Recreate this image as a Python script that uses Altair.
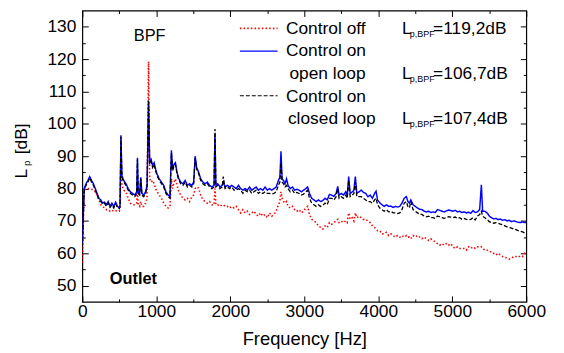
import altair as alt
import pandas as pd

# ---------------- data ----------------
freq = [
    0, 25, 50, 75, 100, 125, 150, 175, 200, 225, 250, 275, 300, 325, 350, 375, 400, 425, 450, 475, 500,
    510, 522, 535, 560, 590, 620, 650, 680, 710, 735, 745, 755, 775, 790, 805, 830, 855, 875,
    895, 910, 930, 950, 970, 990, 1010, 1040, 1070, 1100, 1130, 1160, 1185, 1204, 1220, 1240, 1258, 1280, 1302,
    1330, 1360, 1390, 1420, 1450, 1480, 1505, 1525, 1545, 1570, 1600, 1630, 1660, 1690, 1720, 1750, 1780, 1793, 1805,
    1830, 1860, 1890, 1905, 1930, 1960, 1990, 2020, 2050, 2080, 2110, 2140, 2170, 2200, 2230, 2260, 2290, 2320,
    2350, 2380, 2410, 2440, 2470, 2500, 2530, 2560, 2590, 2620, 2650, 2670, 2685, 2700, 2720, 2740, 2760, 2780,
    2810, 2840, 2870, 2900, 2930, 2960, 2990, 3020, 3045, 3070, 3100, 3130, 3160, 3190, 3220, 3250, 3280, 3310,
    3340, 3370, 3400, 3430, 3452, 3470, 3500, 3530, 3560, 3580, 3600, 3620, 3650, 3670, 3690, 3710, 3740,
    3770, 3800, 3830, 3860, 3890, 3920, 3950, 3970, 3990, 4020, 4050, 4080, 4110, 4140, 4170, 4200, 4230, 4260, 4290,
    4320, 4350, 4380, 4400, 4420, 4440, 4470, 4500, 4530, 4560, 4590, 4620, 4650, 4680, 4710, 4740, 4770, 4800,
    4830, 4860, 4890, 4920, 4950, 4980, 5010, 5040, 5070, 5100, 5130, 5160, 5190, 5220, 5250, 5280, 5310, 5340, 5370,
    5393, 5410, 5440, 5470, 5500, 5530, 5560, 5590, 5620, 5650, 5680, 5710, 5740, 5770, 5800, 5830, 5860, 5890, 5920, 5950, 5980, 6000,
]

control_off = [
    57, 79.5, 80, 80, 80, 79.8, 79.5, 79, 78, 76.5, 75, 74.5, 74, 73.5, 73.5, 73, 73.3, 73, 73.2, 73, 73,
    74, 92, 81, 79.5, 79, 77, 75.5, 75, 75, 75.5, 80, 75, 74.5, 76, 74.5, 74.5, 75.5, 77,
    119.2, 83, 82, 82.5, 81.5, 80, 79, 78, 77, 75.5, 74.5, 74, 74.5, 83, 80, 82, 83, 81, 79.2,
    78, 77, 76.5, 77, 76, 77.5, 78, 80, 80.5, 80.2, 78, 76.5, 76, 75.5, 76, 75, 75, 80, 75,
    75, 74.5, 75, 75, 74.5, 74.5, 74, 74.5, 74, 74.5, 73.5, 72.5, 73.5, 72.5, 73, 72, 72.5, 73,
    72, 71.5, 72.5, 71.5, 72, 71, 72.5, 71.5, 72, 73, 75, 76, 79, 77, 76, 75.5, 76, 74.5,
    74, 74.5, 73.5, 73, 73.5, 72.5, 73, 74, 74.5, 72, 70.5, 70, 69.5, 68.5, 68, 67.5, 68.5, 68,
    69.5, 69, 69.5, 70, 70.5, 69.5, 70, 69.5, 70, 69.5, 72.5, 70.5, 71, 70, 72.5, 71, 71.5,
    71, 70.5, 70.5, 70, 69.5, 68.5, 68, 67.5, 67, 67, 66, 66, 66.5, 65.5, 66, 65.5, 65, 65.5, 65,
    65.5, 65, 65.5, 65, 65, 64.5, 65.5, 65, 65.5, 65, 64.5, 65, 64.5, 64, 64.5, 64, 63.5, 63,
    62.5, 63, 62.5, 63, 62.5, 63, 62, 61.5, 62, 61.5, 61.5, 61.5, 61, 62, 61.5, 62, 61.5, 62, 62,
    62, 61.5, 61, 61, 60.5, 60.5, 60, 59.5, 60, 59.5, 59, 58.8, 58.5, 58.2, 58.5, 59, 59, 58.8, 59.2, 59, 60, 60.5,
]

open_loop = [
    63, 80, 81.5, 82.5, 83.7, 82.5, 81.5, 80, 78.5, 77, 76.5, 75.5, 75.8, 75, 76, 74.5, 75.5, 74.5, 75.8, 74.5, 74,
    75, 96.5, 84, 82.5, 81.5, 80, 79, 78.5, 78, 79, 89.5, 79, 78.5, 83.5, 78.5, 78, 79, 81,
    106.7, 88, 89, 87, 88, 86, 84.5, 83, 82, 81, 79, 78, 77.5, 91.8, 86, 87.5, 88, 85, 83.2,
    82, 81.5, 82.5, 81, 81.5, 81, 82, 90, 86.5, 85.2, 83, 82, 81.5, 82, 81, 80.5, 81, 97, 81,
    81.5, 80.5, 81, 82, 80.5, 81, 80.5, 81, 80.5, 80, 81, 80, 79.5, 80, 79.5, 80.5, 79.5, 80,
    80.5, 79.5, 80, 79.5, 80.5, 79.5, 80, 79.5, 80, 80.5, 82.5, 83.5, 91.5, 83, 82.5, 81.5, 83, 81,
    80, 80.5, 79.5, 79.8, 79.5, 79, 79.5, 80, 80.5, 78.5, 77, 76.5, 76, 76.5, 76, 76.3, 77, 76.5,
    78.2, 78, 77.6, 78.5, 80.7, 78, 78.5, 78, 79, 78, 83.7, 78.5, 79, 79.5, 83.7, 78.5, 79,
    79.5, 78.8, 78.5, 77.5, 78, 77, 78.5, 79.2, 76.5, 75.6, 75, 74.5, 75, 74.5, 74.6, 74.2, 74.5, 74.3, 74.5,
    75.5, 77, 77.5, 76, 75.5, 76.5, 75, 74.5, 74, 73.6, 73.5, 73, 72.8, 73, 72.6, 72.8, 72.6, 73.5,
    73.3, 73, 72.8, 73.1, 73.4, 73.2, 73, 73.3, 72.8, 73, 72.6, 72.8, 72.5, 72.7, 72.4, 73.2, 72.6, 72.8, 73.5,
    81.2, 73, 73, 72.5, 71.5, 71, 70.6, 70.8, 70.4, 70.6, 70.2, 70.4, 70, 70.2, 69.8, 70, 69.8, 69.6, 69.5, 69.7, 69.5, 69.6,
]

closed_loop = [
    62, 79.5, 81, 82, 83.3, 82, 81, 79.5, 78, 76.5, 76, 75.2, 75.5, 74.5, 75.5, 74.2, 75, 74, 75.3, 74.2, 73.8,
    74.5, 96, 83.5, 82, 81, 79.5, 78.5, 78, 77.5, 78.5, 89, 78.5, 78, 83, 78, 77.5, 78.5, 80.5,
    107.4, 87.5, 88.5, 86.5, 87.5, 85.5, 84, 82.5, 81.5, 80.5, 78.5, 77.5, 77, 91, 85.5, 87, 87.5, 84.5, 82.8,
    81.5, 81, 82, 80.5, 81, 80.5, 81.5, 89.5, 86, 84.8, 82.5, 81.5, 81, 81.5, 80.5, 80, 80.5, 98.4, 80.5,
    81, 80, 80.5, 83.7, 80, 80.5, 80, 80.5, 79.5, 79.5, 80, 79.5, 78.5, 79.5, 79, 79.5, 78.5, 79,
    79.5, 78.5, 79, 78.5, 79, 78.5, 78.5, 78.3, 78.5, 79, 81, 82, 88, 82, 81.5, 80.5, 81, 80,
    79, 79.5, 78.5, 78.8, 78.5, 78, 78.3, 79, 79.5, 77, 75.5, 75, 74.5, 75, 74.5, 74.8, 75.5, 75,
    77, 77, 76.5, 77.5, 80, 77, 77.5, 77, 78, 77, 82.5, 77.5, 78, 78.5, 82, 77.5, 77.5,
    77.5, 77, 76.5, 76, 76, 75.5, 76.5, 77, 75, 74, 73.5, 73, 73.5, 72.8, 73, 72.5, 72.5, 72.3, 72.5,
    73.5, 75.5, 76, 74.5, 74, 76, 73.5, 73, 72.5, 72, 72, 71.5, 71.3, 71.5, 71, 71, 70.8, 71.5,
    71.3, 71, 70.8, 71, 71.3, 71.2, 71, 71.2, 70.8, 71, 70.5, 70.8, 70.5, 70.3, 70.5, 71, 70.3, 71.5, 72,
    73, 71.5, 71, 70.5, 69.8, 69.5, 69.3, 69.5, 69.3, 69, 68.8, 68.5, 68.2, 68, 67.8, 67.5, 67.3, 67, 66.8, 66.6, 66.3, 66.5,
]

series_names = ["1 off", "2 open", "3 closed"]
series_colors = ["#ff0000", "#0000ff", "#000000"]

x_major = [0, 1000, 2000, 3000, 4000, 5000, 6000]
x_minor = [500, 1500, 2500, 3500, 4500, 5500]
y_major = [50, 60, 70, 80, 90, 100, 110, 120, 130]
y_minor = [55, 65, 75, 85, 95, 105, 115, 125]

rows = []
for name, vals in zip(series_names, [control_off, open_loop, closed_loop]):
    for f, v in zip(freq, vals):
        rows.append({"f": f, "v": v, "s": name})
df = pd.DataFrame(rows)

# ---------------- layout ----------------
W, H = 448, 294
FONT = "Liberation Sans"
xs = alt.Scale(domain=[0, 6000], nice=False, zero=False)
ys = alt.Scale(domain=[45, 135], nice=False, zero=False)


def make_axis(orient, values, size, labels=False, title=None, label_pad=1):
    kw = dict(orient=orient, values=values, tickSize=size, offset=-size, domain=False,
              grid=False, labels=labels, ticks=True, tickColor="black", tickWidth=1)
    if labels:
        kw.update(labelFont=FONT, labelFontSize=17.5, labelColor="black", format="d",
                  labelPadding=label_pad, labelOverlap=False, labelFlush=False)
    if title:
        kw.update(title=title, titleFont=FONT, titleFontSize=18.5, titleFontWeight="normal",
                  titleColor="black", titlePadding=10)
    else:
        kw["title"] = None
    return alt.Axis(**kw)


lines = alt.Chart(df).mark_line(clip=True).encode(
    x=alt.X("f:Q", scale=xs, axis=make_axis("bottom", x_major, 6, True, "Frequency [Hz]", 1)),
    y=alt.Y("v:Q", scale=ys, axis=make_axis("left", y_major, 6, True, None, 6.5)),
    color=alt.Color("s:N", scale=alt.Scale(domain=series_names, range=series_colors), legend=None),
    strokeDash=alt.StrokeDash("s:N", scale=alt.Scale(domain=series_names,
                                                     range=[[1.5, 2.2], [1, 0], [4, 2]]), legend=None),
    strokeWidth=alt.StrokeWidth("s:N", scale=alt.Scale(domain=series_names, range=[1.6, 1.3, 1.2]),
                                legend=None),
    order=alt.Order("f:Q"),
)

anchor = pd.DataFrame({"f": [0], "v": [45]})


def axis_layer(xa, ya):
    return alt.Chart(anchor).mark_point(opacity=0).encode(
        x=alt.X("f:Q", scale=xs, axis=xa),
        y=alt.Y("v:Q", scale=ys, axis=ya),
    )


ax_minor_bl = axis_layer(make_axis("bottom", x_minor, 3), make_axis("left", y_minor, 3))
ax_major_tr = axis_layer(make_axis("top", x_major, 6), make_axis("right", y_major, 6))
ax_minor_tr = axis_layer(make_axis("top", x_minor, 3), make_axis("right", y_minor, 3))

one = pd.DataFrame({"k": [0]})


def label(txt, x, y, size=17.5, align="left", angle=0, weight="normal"):
    return alt.Chart(one).mark_text(
        text=txt, font=FONT, fontSize=size, align=align, baseline="alphabetic",
        angle=angle, fontWeight=weight, color="black"
    ).encode(x=alt.value(x), y=alt.value(y))


def sample(y, color, dash, width):
    return alt.Chart(one).mark_rule(color=color, strokeDash=dash, strokeWidth=width).encode(
        x=alt.value(159), x2=alt.value(197), y=alt.value(y)
    )


legend_layers = [
    sample(18, "#ff0000", [1.5, 2.2], 1.6),
    sample(41, "#0000ff", [1, 0], 1.3),
    sample(86, "#000000", [4, 2], 1.2),
    label("Control off", 205.5, 23.3),
    label("Control on", 205.5, 46.3),
    label("open loop", 209, 69.3),
    label("Control on", 205.5, 92.3),
    label("closed loop", 207.5, 114.5),
]

lp_layers = []
for base, val in [(23.3, "=119,2dB"), (69.3, "=106,7dB"), (114.5, "=107,4dB")]:
    lp_layers += [
        label("L", 322.5, base),
        label("p,BPF", 330.5, base + 3, size=9),
        label(val, 354, base),
    ]

annot = [
    label("BPF", 68, 31, size=16.5, align="center"),
    label("Outlet", 27.7, 276, size=16.5, weight="bold"),
    # y-axis title  L_p [dB]  (rotated)
    label("L", -56.3, 169.5, angle=270),
    label("p", -52.5, 157, size=10, angle=270),
    label("[dB]", -56.3, 145, angle=270),
]

chart = alt.layer(
    lines, ax_minor_bl, ax_major_tr, ax_minor_tr, *legend_layers, *lp_layers, *annot
).resolve_axis(
    x="independent", y="independent"
).properties(
    width=W, height=H,
    autosize=alt.AutoSizeParams(type="none"),
    padding={"left": 75, "top": 1, "right": 30, "bottom": 48},
).configure_view(
    stroke="black", strokeWidth=1.2
)

chart.save("out.html", embed_options={"renderer": "svg", "actions": False})
